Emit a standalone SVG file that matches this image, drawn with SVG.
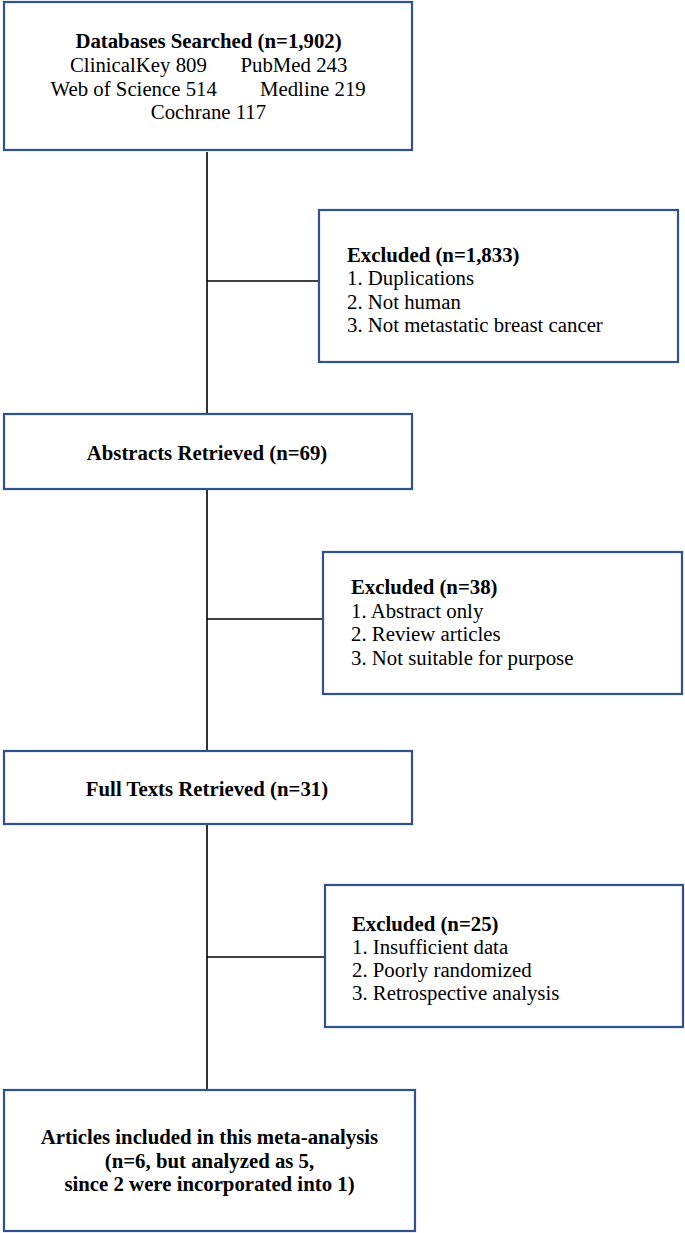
<svg xmlns="http://www.w3.org/2000/svg" width="685" height="1233" viewBox="0 0 685 1233">
<style>
.box{fill:#ffffff;stroke:#2F528F;stroke-width:2.2}
.ln{stroke:#000000;stroke-width:1.6;fill:none}
text{font-family:"Liberation Serif","Times New Roman",serif;font-size:20.8px;fill:#000000}
.b{font-weight:bold}
.c{text-anchor:middle}
</style>
<rect width="685" height="1233" fill="#ffffff"/>
<g id="connectors">
<line class="ln" x1="207" y1="152" x2="207" y2="414"/>
<line class="ln" x1="207" y1="489" x2="207" y2="751"/>
<line class="ln" x1="207" y1="824" x2="207" y2="1090"/>
<line class="ln" x1="207" y1="281" x2="319" y2="281"/>
<line class="ln" x1="207" y1="619" x2="323" y2="619"/>
<line class="ln" x1="207" y1="957" x2="325" y2="957"/>
</g>
<g id="databases">
<rect class="box" x="4" y="2" width="408" height="148"/>
<text class="b c" x="208.5" y="48">Databases Searched (n=1,902)</text>
<text><tspan x="70" y="72">ClinicalKey 809</tspan><tspan x="240.5" y="72">PubMed 243</tspan></text>
<text><tspan x="50.5" y="95.5">Web of Science 514</tspan><tspan x="260" y="95.5">Medline 219</tspan></text>
<text class="c" x="208.5" y="119">Cochrane 117</text>
</g>
<g id="excluded1">
<rect class="box" x="319" y="210" width="359" height="152"/>
<text class="b" x="347" y="262">Excluded (n=1,833)</text>
<text x="347" y="285.3">1. Duplications</text>
<text x="347" y="308.6">2. Not human</text>
<text x="347" y="332">3. Not metastatic breast cancer</text>
</g>
<g id="abstracts">
<rect class="box" x="4" y="414" width="408" height="75"/>
<text class="b c" x="207" y="460">Abstracts Retrieved (n=69)</text>
</g>
<g id="excluded2">
<rect class="box" x="323" y="552" width="359" height="142"/>
<text class="b" x="351" y="594">Excluded (n=38)</text>
<text x="351" y="617.5">1. Abstract only</text>
<text x="351" y="641">2. Review articles</text>
<text x="351" y="664.5">3. Not suitable for purpose</text>
</g>
<g id="fulltexts">
<rect class="box" x="4" y="751" width="408" height="73"/>
<text class="b c" x="207" y="796">Full Texts Retrieved (n=31)</text>
</g>
<g id="excluded3">
<rect class="box" x="325" y="885" width="358" height="142"/>
<text class="b" x="352" y="930.5">Excluded (n=25)</text>
<text x="352" y="954">1. Insufficient data</text>
<text x="352" y="977">2. Poorly randomized</text>
<text x="352" y="1000">3. Retrospective analysis</text>
</g>
<g id="included">
<rect class="box" x="4" y="1090" width="411" height="141"/>
<text class="b c" x="209.5" y="1144">Articles included in this meta-analysis</text>
<text class="b c" x="209.5" y="1167.5">(n=6, but analyzed as 5,</text>
<text class="b c" x="209.5" y="1191">since 2 were incorporated into 1)</text>
</g>
</svg>
